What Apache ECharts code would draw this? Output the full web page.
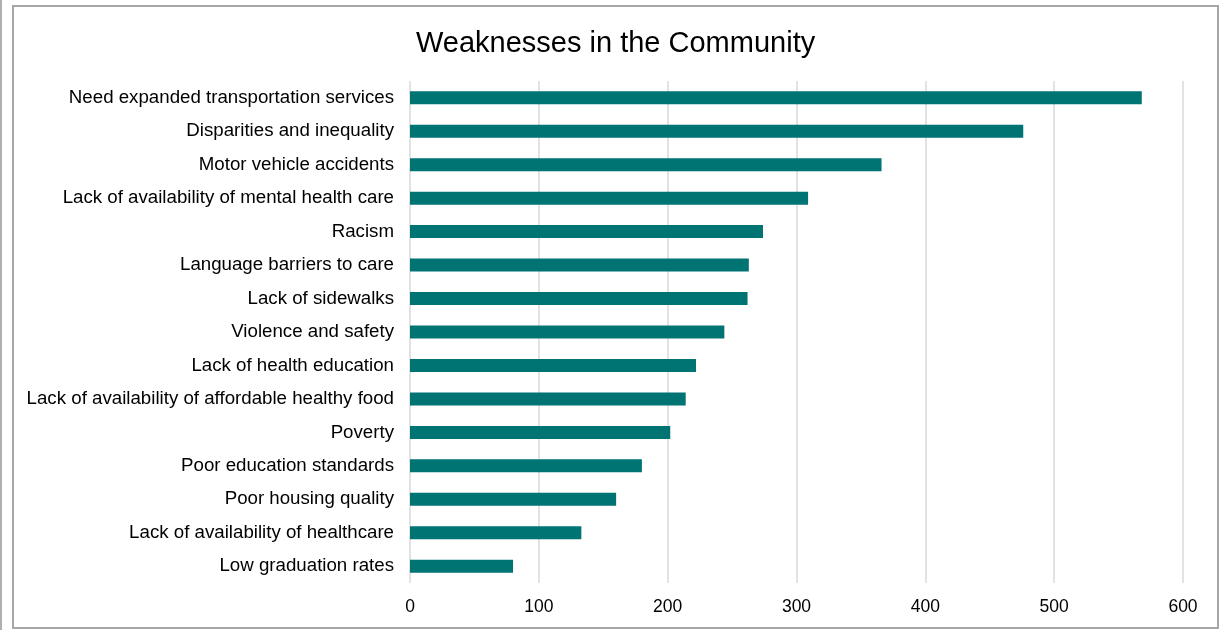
<!DOCTYPE html>
<html>
<head>
<meta charset="utf-8">
<script src="https://cdn.jsdelivr.net/npm/echarts@6/dist/echarts.min.js"></script>
<style>
  html, body { margin: 0; padding: 0; background: #fff; }
  .leftline { position: absolute; left: 0; top: 0; width: 2px; height: 630px; background: #b0b0b0; }
  .frame { position: absolute; left: 12px; top: 5px; width: 1203px; height: 620px; border: 2px solid #a6a6a6; }
  #chart { position: absolute; left: 0; top: 0; width: 1221px; height: 630px; }
</style>
</head>
<body>
<div class="leftline"></div>
<div class="frame"></div>
<div id="chart"></div>
<script>
// categories, top to bottom as drawn
const categories = [
  "Need expanded transportation services",
  "Disparities and inequality",
  "Motor vehicle accidents",
  "Lack of availability of mental health care",
  "Racism",
  "Language barriers to care",
  "Lack of sidewalks",
  "Violence and safety",
  "Lack of health education",
  "Lack of availability of affordable healthy food",
  "Poverty",
  "Poor education standards",
  "Poor housing quality",
  "Lack of availability of healthcare",
  "Low graduation rates"
];
const counts = [568, 476, 366, 309, 274, 263, 262, 244, 222, 214, 202, 180, 160, 133, 80];
const xTicks = [0, 100, 200, 300, 400, 500, 600];

const chart = echarts.init(document.getElementById("chart"));
chart.setOption({
  animation: false,
  textStyle: { fontFamily: "Liberation Sans, Arial, sans-serif" },
  title: {
    text: "Weaknesses in the Community",
    left: 411,
    top: 24,
    textStyle: { fontSize: 29, fontWeight: "normal", color: "#000", fontFamily: "Liberation Sans, Arial, sans-serif" }
  },
  grid: { left: 410, right: 38, top: 81, bottom: 47 },
  xAxis: {
    type: "value",
    min: xTicks[0],
    max: xTicks[xTicks.length - 1],
    interval: 100,
    axisLine: { show: false },
    axisTick: { show: false },
    axisLabel: { fontSize: 17.5, color: "#000", margin: 15 },
    splitLine: { show: true, lineStyle: { color: "#d9d9d9", width: 1.5 } }
  },
  yAxis: {
    type: "category",
    inverse: true,
    data: categories,
    axisLine: { show: false },
    axisTick: { show: false },
    axisLabel: { fontSize: 18.7, color: "#000", margin: 16, padding: [2, 0, 0, 0] }
  },
  series: [{
    type: "bar",
    data: counts,
    barWidth: 13,
    itemStyle: { color: "#007373" }
  }]
});
</script>
</body>
</html>
